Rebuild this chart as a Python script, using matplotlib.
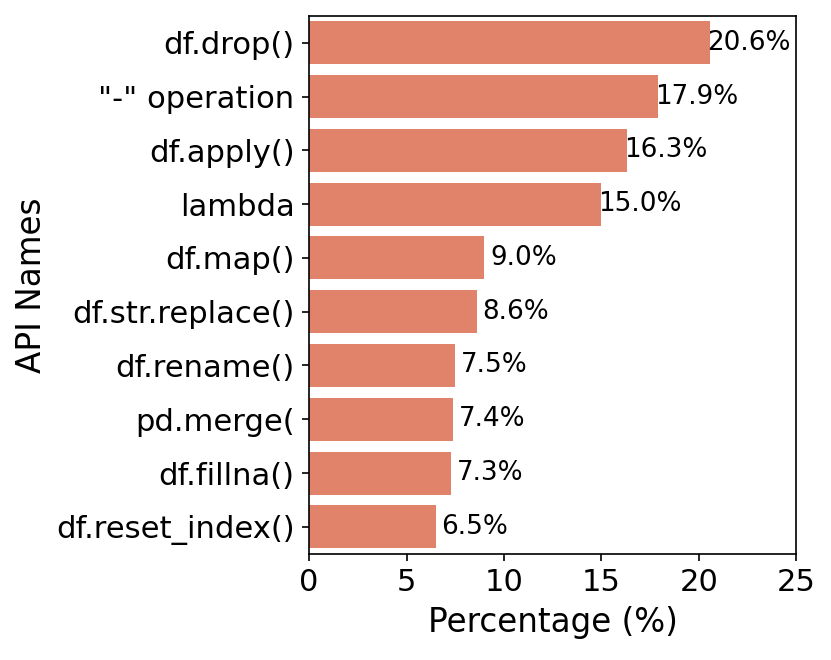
import matplotlib
matplotlib.use("Agg")
import matplotlib.pyplot as plt
import numpy as np

# API usage percentages
api_names = ["df.drop()", '"-" operation', "df.apply()", "lambda", "df.map()",
             "df.str.replace()", "df.rename()", "pd.merge(", "df.fillna()",
             "df.reset_index()"]
percentages = [20.6, 17.9, 16.3, 15.0, 9.0, 8.6, 7.5, 7.4, 7.3, 6.5]

fig, ax = plt.subplots(figsize=(5.54, 4.4), dpi=150)
fig.subplots_adjust(left=0.372, right=0.958, top=0.976, bottom=0.161)

y = np.arange(len(api_names))
ax.barh(y, percentages, height=0.8, color="#E1826A")

for yi, v in zip(y, percentages):
    ax.text(v + 2, yi, f"{v:.1f}%", ha="center", va="center", fontsize=12.6)

ax.set_yticks(y)
ax.set_yticklabels(api_names, fontsize=14.7)
ax.set_ylim(len(api_names) - 0.5, -0.5)
ax.set_xlim(0, 25)
ax.set_xticks([0, 5, 10, 15, 20, 25])
ax.tick_params(axis="x", labelsize=14.7)
ax.set_xlabel("Percentage (%)", fontsize=15.7)
ax.set_ylabel("API Names", fontsize=15.7)

fig.savefig("out.png", dpi=150)
